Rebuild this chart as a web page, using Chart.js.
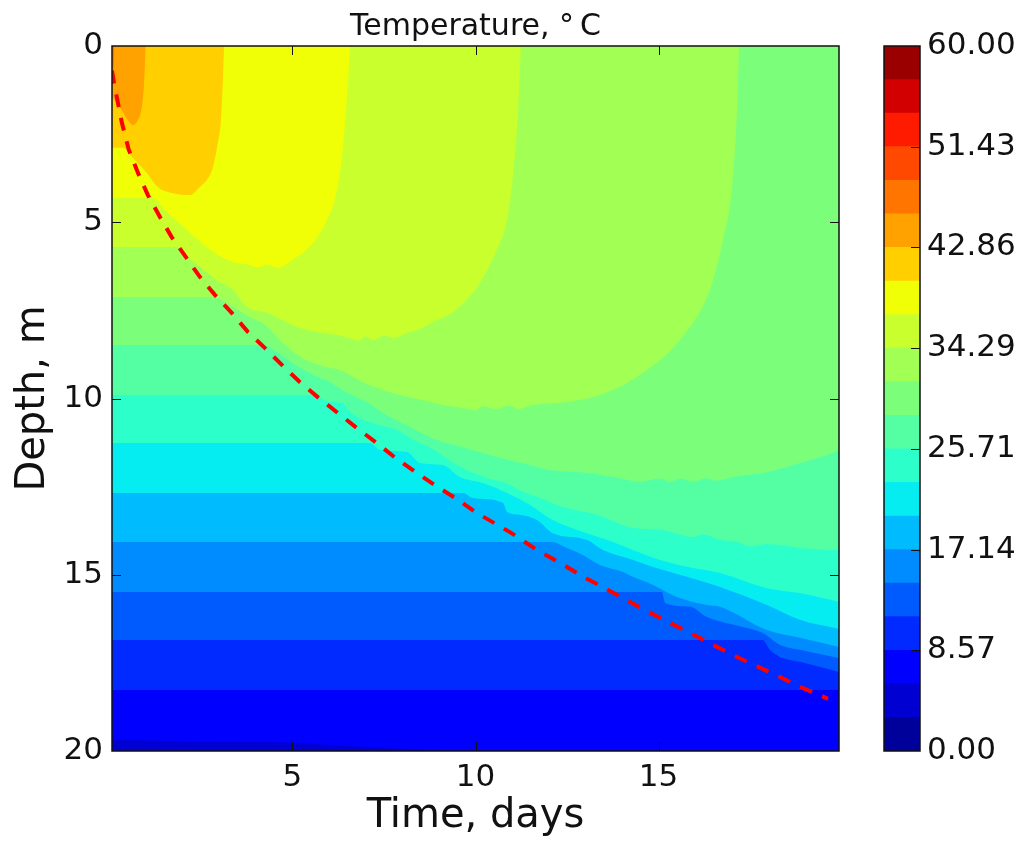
<!DOCTYPE html>
<html>
<head>
<meta charset="utf-8">
<title>Temperature</title>
<script src="https://cdn.jsdelivr.net/npm/chart.js@4"></script>
<style>
    body { margin: 0; background: #fff; }
    canvas { position: absolute; top: 0; }
    #fieldChart { left: 0; }
    #colorbarChart { left: 870px; }
</style>
</head>
<body>
<canvas id="fieldChart" width="870" height="841"></canvas>
<canvas id="colorbarChart" width="154" height="841"></canvas>
<script>
// lower edge of every temperature band as [time in days, depth in m]
const band16 = [[0.07, 0.9], [0.12, 0.5], [0.14, 0]];
const band15 = [[0.07, 1.45], [0.34, 1.82], [0.5, 2.1], [0.64, 2.24], [0.78, 2.1], [0.88, 1.76], [0.94, 1.16], [0.99, 0]];
const band14 = [[0.07, 2.89], [0.37, 2.89], [0.64, 3.18], [1.02, 3.6], [1.32, 4.0], [1.6, 4.14], [2.2, 4.23], [2.47, 4.0],
    [2.66, 3.8], [2.83, 3.43], [2.96, 2.75], [3.04, 2.18], [3.1, 0.96], [3.13, 0]];
const band13 = [[0.07, 4.31], [1.16, 4.31], [1.57, 4.71], [2.2, 5.3], [2.83, 5.84], [3.37, 6.13], [3.8, 6.2], [4.05, 6.28], [4.3, 6.2], [4.6, 6.29], [5.0, 6.07],
    [5.56, 5.59], [5.94, 4.94], [6.2, 4.17], [6.38, 2.87], [6.52, 0.96], [6.57, 0]];
const band12 = [[0.07, 5.7], [1.79, 5.7], [2.14, 5.99], [2.93, 6.64], [3.37, 6.92], [3.75, 7.4], [4.3, 7.57], [5.2, 8.0],
    [6.49, 8.26], [6.8, 8.36], [7.0, 8.24], [7.2, 8.34], [7.5, 8.22], [7.8, 8.28], [8.12, 8.14], [8.5, 8.02], [8.83, 7.83], [9.38, 7.55], [9.93, 7.0], [10.17, 6.64], [10.58, 5.79],
    [10.86, 4.94], [11.02, 3.72], [11.16, 1.9], [11.24, 0]];
const band11 = [[0.07, 7.12], [2.83, 7.12], [3.43, 7.43], [3.84, 7.69], [4.25, 7.91], [4.71, 8.4], [5.28, 8.86], [5.89, 9.1],
    [6.29, 9.19], [6.92, 9.53], [7.66, 9.82], [8.56, 10.04], [9.2, 10.2], [9.66, 10.27], [10.0, 10.33], [10.2, 10.22], [10.58, 10.3], [10.9, 10.2], [11.2, 10.3],
    [11.49, 10.2], [12.5, 10.1], [13.4, 9.9], [14.49, 9.33], [15.58, 8.34], [16.4, 6.92], [16.76, 5.5], [17.0, 4.09], [17.14, 1.9], [17.2, 0]];
const band10 = [[0.07, 8.48], [4.19, 8.48], [4.57, 8.68], [5.2, 9.13], [5.75, 9.42], [6.02, 9.53], [6.49, 9.84], [7.03, 10.1],
    [7.47, 10.41], [8.21, 10.81], [8.95, 11.18], [9.66, 11.38], [10.58, 11.66], [11.49, 11.89], [12.03, 12.03], [13.04, 12.11],
    [13.94, 12.26], [14.5, 12.36], [15.04, 12.27], [15.3, 12.37], [15.6, 12.27], [15.94, 12.36], [16.3, 12.26], [16.6, 12.33], [17.03, 12.23], [17.96, 12.09], [18.86, 11.83], [19.6, 11.6], [19.93, 11.46]];
const band9 = [[0.07, 9.9], [5.56, 9.9], [6.02, 10.1], [6.38, 10.13], [6.57, 10.38], [7.2, 10.7], [7.85, 10.89], [8.4, 11.23],
    [8.75, 11.38], [9.49, 11.89], [10.31, 12.26], [10.85, 12.4], [11.21, 12.6], [11.76, 12.82], [12.39, 13.08], [13.32, 13.3],
    [14.22, 13.65], [15.12, 13.73], [15.94, 13.93], [16.2, 13.85], [16.68, 14.01], [17.2, 14.08], [17.5, 14.2], [17.96, 14.13], [18.86, 14.24], [19.93, 14.3]];
const band8 = [[0.07, 11.26], [7.11, 11.26], [7.39, 11.46], [8.13, 11.52], [8.48, 11.83], [9.11, 11.89], [9.57, 12.23], [10.2, 12.4],
    [10.86, 12.68], [11.49, 13.02], [12.11, 13.45], [13.04, 13.82], [13.59, 14.01], [14.3, 14.3], [15.04, 14.58], [15.94, 14.81],
    [16.68, 14.95], [17.96, 15.38], [18.86, 15.52], [19.93, 15.77]];
const band7 = [[0.07, 12.68], [9.66, 12.68], [9.93, 12.82], [10.75, 12.96], [10.86, 13.22], [11.21, 13.3], [11.68, 13.45], [12.11, 13.82],
    [13.04, 14.01], [13.48, 14.3], [14.3, 14.58], [14.85, 14.78], [15.78, 15.06], [16.68, 15.35], [17.96, 15.86], [18.86, 16.28], [19.93, 16.54]];
const band6 = [[0.07, 14.07], [12.09, 14.07], [12.5, 14.24], [12.93, 14.44], [13.4, 14.72], [14.03, 14.92], [14.3, 15.06], [14.85, 15.29],
    [15.5, 15.63], [16.32, 15.86], [16.68, 15.91], [17.96, 16.57], [18.86, 16.79], [19.93, 17.05]];
const band5 = [[0.07, 15.49], [15.09, 15.49], [15.18, 15.8], [15.86, 15.91], [16.32, 16.2], [17.3, 16.48], [17.85, 16.65], [18.32, 16.99],
    [18.86, 17.13], [19.93, 17.36]];
const band4 = [[0.07, 16.85], [17.85, 16.85], [18.04, 17.13], [18.32, 17.33], [18.86, 17.47], [19.93, 17.76]];
const band3 = [[0.07, 18.27], [19.93, 18.27]];
const band2 = [[0.07, 19.69], [2.39, 19.72], [5.12, 19.77], [6.49, 19.86], [8.84, 19.97], [10.2, 20], [19.93, 20]];
const band1 = [[0.07, 20], [19.93, 20]];

const frontCurve = [[0.07, 0.7], [0.12, 1.02], [0.34, 2.18], [0.53, 2.95], [0.78, 3.6], [1.05, 4.23], [1.38, 4.85], [1.7, 5.42],
    [2.09, 5.99], [2.47, 6.55], [2.88, 7.06], [3.34, 7.57], [3.78, 8.11], [4.25, 8.57], [4.74, 9.08], [5.2, 9.53], [5.69, 9.96],
    [6.24, 10.41], [6.76, 10.84], [7.3, 11.26], [7.82, 11.69], [8.37, 12.09], [8.92, 12.48], [9.49, 12.85], [10.04, 13.25],
    [10.94, 13.79], [11.73, 14.33], [12.33, 14.67], [12.91, 15.04], [13.48, 15.35], [14.08, 15.69], [14.68, 16.03], [15.26, 16.34],
    [15.86, 16.65], [17.03, 17.28], [18.26, 17.87], [18.86, 18.18], [19.46, 18.44], [19.63, 18.52]];

const bandColors = ["#00009b", "#0000d2", "#0000ff", "#002aff", "#005bff", "#008bff", "#00bcff", "#06edf1", "#2dffca", "#54ffa3", "#7bff7b",
    "#a2ff54", "#c9ff2d", "#f1ff06", "#ffcf00", "#ffa200", "#ff7500", "#ff4800", "#ff1b00", "#d20000", "#9b0000"];
const colorbarLevels = [0, 2.86, 5.71, 8.57, 11.43, 14.29, 17.14, 20, 22.86, 25.71, 28.57, 31.43, 34.29, 37.14, 40, 42.86, 45.71, 48.57, 51.43, 54.29, 57.14, 60];
const colorbarTicks = [0, 8.57, 17.14, 25.71, 34.29, 42.86, 51.43, 60];

const textColor = "#111";
const fontFamily = "'DejaVu Sans'";

function toPoints(pairs) {
    return pairs.map(([x, y]) => ({ x, y }));
}

function bandDataset(pairs, index) {
    return {
        data: toPoints(pairs),
        backgroundColor: bandColors[index],
        borderWidth: 0,
        pointRadius: 0,
        cubicInterpolationMode: "monotone",
        fill: { value: 0 },
    };
}

// matplotlib style: frame round the plot, tick marks pointing inwards
const frameTicks = {
    id: "frameTicks",
    afterDraw(chart, args, options) {
        const { ctx, chartArea: area, scales } = chart;
        ctx.save();
        ctx.strokeStyle = "#111";
        ctx.lineWidth = 1;
        ctx.beginPath();
        if (options.bothSides) {
            scales.x.ticks.forEach((tick) => {
                const px = Math.round(scales.x.getPixelForValue(tick.value)) + 0.5;
                ctx.moveTo(px, area.top);
                ctx.lineTo(px, area.top + 9);
                ctx.moveTo(px, area.bottom);
                ctx.lineTo(px, area.bottom - 9);
            });
        }
        scales.y.ticks.forEach((tick) => {
            if (tick.value === scales.y.min || tick.value === scales.y.max) {
                return;
            }
            const py = Math.round(scales.y.getPixelForValue(tick.value)) + 0.5;
            if (options.bothSides) {
                ctx.moveTo(area.left, py);
                ctx.lineTo(area.left + 9, py);
            }
            ctx.moveTo(area.right, py);
            ctx.lineTo(area.right - 9, py);
        });
        ctx.stroke();
        ctx.lineWidth = 1.5;
        ctx.strokeRect(area.left, area.top, area.right - area.left, area.bottom - area.top);
        ctx.restore();
    },
};

const bands = [band16, band15, band14, band13, band12, band11, band10, band9, band8, band7, band6, band5, band4, band3, band2, band1];
const bandIndexes = [16, 15, 14, 13, 12, 11, 10, 9, 8, 7, 6, 5, 4, 3, 2, 1];

new Chart(document.getElementById("fieldChart"), {
    type: "line",
    data: {
        datasets: [
            {
                data: toPoints(frontCurve),
                borderColor: "#ff0000",
                borderWidth: 4,
                borderDash: [13, 11],
                pointRadius: 0,
                tension: 0,
                fill: false,
            },
            ...bands.map((pairs, i) => bandDataset(pairs, bandIndexes[i])),
        ],
    },
    options: {
        responsive: false,
        animation: false,
        layout: { padding: { right: 31 } },
        plugins: {
            legend: { display: false },
            tooltip: { enabled: false },
            title: {
                display: true,
                text: "Temperature, °\u2009C",
                color: textColor,
                fullSize: false,
                font: { family: fontFamily, size: 30, weight: "normal" },
                padding: { top: 9, bottom: 1 },
            },
            frameTicks: { bothSides: true },
        },
        scales: {
            x: {
                type: "linear",
                min: 0.07,
                max: 19.93,
                afterFit(scale) {
                    scale.height = 90;
                },
                grid: { display: false, drawTicks: false },
                border: { display: false },
                ticks: {
                    stepSize: 5,
                    includeBounds: false,
                    maxRotation: 0,
                    padding: 8,
                    color: textColor,
                    font: { family: fontFamily, size: 31 },
                },
                title: {
                    display: true,
                    text: "Time, days",
                    color: textColor,
                    font: { family: fontFamily, size: 40 },
                    padding: { top: 0, bottom: 0 },
                },
            },
            y: {
                type: "linear",
                reverse: true,
                min: 0,
                max: 20,
                afterFit(scale) {
                    scale.width = 112;
                },
                grid: { display: false, drawTicks: false },
                border: { display: false },
                ticks: {
                    stepSize: 5,
                    padding: 9,
                    color: textColor,
                    font: { family: fontFamily, size: 31 },
                },
                title: {
                    display: true,
                    text: "Depth, m",
                    color: textColor,
                    font: { family: fontFamily, size: 40 },
                    padding: { top: 10, bottom: 0 },
                },
            },
        },
    },
    plugins: [frameTicks],
});

new Chart(document.getElementById("colorbarChart"), {
    type: "bar",
    data: {
        labels: [""],
        datasets: bandColors.map((color, i) => ({
            data: [[colorbarLevels[i], colorbarLevels[i + 1]]],
            backgroundColor: color,
            barPercentage: 1,
            categoryPercentage: 1,
        })),
    },
    options: {
        responsive: false,
        animation: false,
        layout: { padding: { left: 14, top: 46, bottom: 90 } },
        plugins: {
            legend: { display: false },
            tooltip: { enabled: false },
            frameTicks: { bothSides: false },
        },
        scales: {
            x: { display: false, stacked: true },
            y: {
                position: "right",
                min: 0,
                max: 60,
                afterBuildTicks(scale) {
                    scale.ticks = colorbarTicks.map((value) => ({ value }));
                },
                afterFit(scale) {
                    scale.width = 104;
                },
                grid: { display: false, drawTicks: false },
                border: { display: false },
                ticks: {
                    padding: 7,
                    color: textColor,
                    font: { family: fontFamily, size: 31 },
                    callback: (value) => Number(value).toFixed(2),
                },
            },
        },
    },
    plugins: [frameTicks],
});
</script>
</body>
</html>
